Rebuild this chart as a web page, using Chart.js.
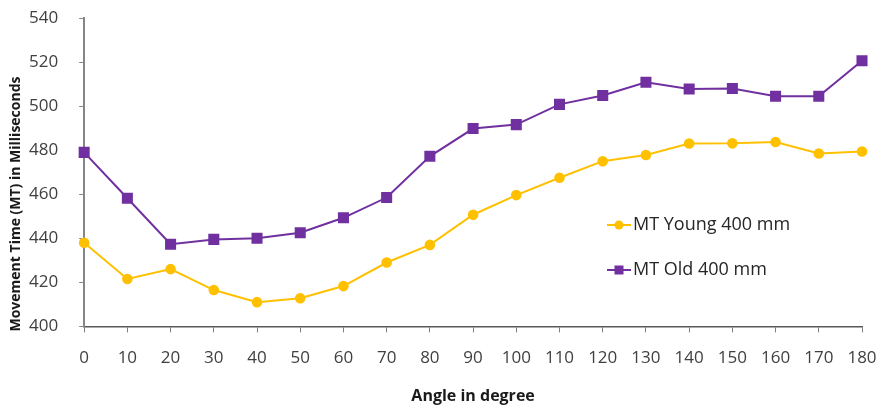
<!DOCTYPE html>
<html><head><meta charset="utf-8">
<script src="https://cdn.jsdelivr.net/npm/chart.js@4"></script>
<style>html,body{margin:0;padding:0;background:#fff}#wrap{width:880px;height:410px}</style>
</head><body><div id="wrap"><canvas id="c" width="880" height="410"></canvas></div>
<script>
const angles = ["0","10","20","30","40","50","60","70","80","90","100","110","120","130","140","150","160","170","180"];
const mtYoung = [438,421.5,426,416.5,411,412.8,418.3,429,437,450.7,459.6,467.5,475,477.8,483,483.1,483.7,478.5,479.4];
const mtOld = [479,458.2,437.3,439.5,440,442.5,449.3,458.5,477.2,489.8,491.6,500.8,504.8,510.8,507.8,508,504.5,504.5,520.6];
const seriesNames = ["MT Young 400 mm","MT Old 400 mm"];
const yTicks = [400,420,440,460,480,500,520,540];
const yTitle = "Movement Time (MT) in Milliseconds";
const xTitle = "Angle in degree";
const colors = ["#FFC000","#7030A0"];
const font = "'Open Sans', 'Liberation Sans', sans-serif";

const extrasPlugin = {
  id:'extras',
  afterDraw(chart){
    const ctx = chart.ctx;
    const ys = [225, 270];
    chart.data.datasets.forEach((ds,i)=>{
      const y = ys[i], x0 = 607, x1 = 631;
      ctx.save();
      ctx.strokeStyle = ds.borderColor; ctx.lineWidth = 2;
      ctx.beginPath(); ctx.moveTo(x0,y); ctx.lineTo(x1,y); ctx.stroke();
      ctx.fillStyle = ds.borderColor;
      if (ds.pointStyle === 'rect') { ctx.fillRect(614.5,y-4.5,9,9); }
      else { ctx.beginPath(); ctx.arc(619,y,4.5,0,Math.PI*2); ctx.fill(); }
      ctx.fillStyle = '#262626';
      ctx.font = "18px " + font;
      ctx.textBaseline = 'middle';
      ctx.fillText(ds.label, 633, y);
      ctx.restore();
    });
    ctx.save();
    ctx.translate(16, 204);
    ctx.rotate(-Math.PI/2);
    ctx.font = "bold 14px " + font;
    ctx.fillStyle = '#1a1a1a';
    ctx.textAlign = 'center';
    ctx.textBaseline = 'middle';
    ctx.fillText(yTitle, 0, 0);
    ctx.restore();
  }
};

new Chart(document.getElementById('c'), {
  type:'line',
  data:{
    labels: angles,
    datasets:[
      {label:seriesNames[0], data:mtYoung, borderColor:colors[0], backgroundColor:colors[0], pointBackgroundColor:colors[0], pointBorderColor:colors[0], borderWidth:2, pointStyle:'circle', pointRadius:4.3, tension:0},
      {label:seriesNames[1], data:mtOld, borderColor:colors[1], backgroundColor:colors[1], pointBackgroundColor:colors[1], pointBorderColor:colors[1], borderWidth:2, pointStyle:'rect', pointRadius:6.4, tension:0}
    ]
  },
  options:{
    responsive:false, animation:false, devicePixelRatio:1,
    layout:{padding:{left:8,right:18,top:18,bottom:4}},
    plugins:{legend:{display:false}, tooltip:{enabled:false}},
    scales:{
      x:{
        offset:false,
        afterFit(scale){ scale.paddingLeft = 0; scale.paddingRight = 0; },
        grid:{display:true, drawOnChartArea:false, drawTicks:true, tickLength:6, color:'#7f7f7f'},
        border:{display:true, color:'#595959', width:1.5},
        ticks:{color:'#404040', font:{family:font, size:17}, padding:16, maxRotation:0, autoSkip:false},
        title:{display:true, text:xTitle, color:'#1a1a1a', font:{family:font, size:16, weight:'bold'}, padding:{top:2,bottom:0}}
      },
      y:{
        min:400, max:540,
        afterFit(scale){ scale.paddingTop = 0; scale.paddingBottom = 0; },
        afterBuildTicks(scale){ scale.ticks = yTicks.map(v=>({value:v})); },
        grid:{display:true, drawOnChartArea:false, drawTicks:true, tickLength:5, color:'#868686'},
        border:{display:true, color:'#868686', width:2},
        ticks:{color:'#404040', font:{family:font, size:17}, padding:21}
      }
    }
  },
  plugins:[extrasPlugin]
});
</script></body></html>
